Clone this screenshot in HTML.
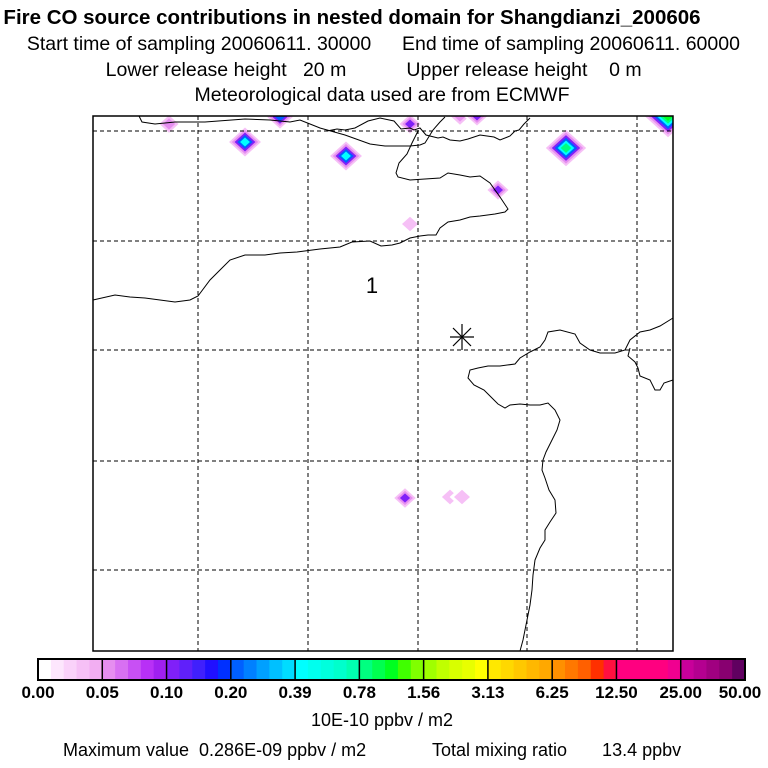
<!DOCTYPE html>
<html><head><meta charset="utf-8"><style>
body{margin:0;background:#fff;}
svg{display:block;font-family:"Liberation Sans",sans-serif;}
text{white-space:pre;}
</style></head><body>
<svg id="c" width="768" height="768" viewBox="0 0 768 768">
<g font-size="19.5" text-anchor="middle" fill="#000">
<text x="352" y="24" font-weight="bold" font-size="20.5">Fire CO source contributions in nested domain for Shangdianzi_200606</text>
<text x="199" y="50">Start time of sampling 20060611. 30000</text>
<text x="571" y="50">End time of sampling 20060611. 60000</text>
<text x="226" y="76">Lower release height   20 m</text>
<text x="524" y="76">Upper release height    0 m</text>
<text x="382" y="101">Meteorological data used are from ECMWF</text>
</g>
<svg x="93" y="116" width="580" height="535" viewBox="93 116 580 535" overflow="hidden">
<g id="plumes"></g>
</svg>
<g stroke="#000" stroke-width="1" stroke-dasharray="4,3" fill="none">
<line x1="198" y1="116" x2="198" y2="651"/><line x1="308" y1="116" x2="308" y2="651"/><line x1="418" y1="116" x2="418" y2="651"/><line x1="527" y1="116" x2="527" y2="651"/><line x1="637" y1="116" x2="637" y2="651"/>
<line x1="93" y1="131" x2="673" y2="131"/><line x1="93" y1="241" x2="673" y2="241"/><line x1="93" y1="350" x2="673" y2="350"/><line x1="93" y1="461" x2="673" y2="461"/><line x1="93" y1="570" x2="673" y2="570"/>
</g>
<g stroke="#000" stroke-width="1" fill="none">
<polyline points="139,116 142,122 155,124 175,122 205,122 245,119 270,120 290,122 300,120 310,124 320,128 345,135 370,144 385,146 410,146 420,145 425,143 433,130 440,122 445,117"/>
<polyline points="327,131 337,129 345,130 355,128 368,121 380,118 394,121 401,129 410,128 414,130 420,128 426,135 438,138 443,137 450,140 460,141 468,139 480,135 494,137 500,140 510,136 515,131 519,130 524,124 530,118"/>
<polyline points="418,131 412,143 407,154 399,163 396,173 398,177 410,180 425,179 440,178 448,173 460,175 470,177 480,176 490,183 500,197 508,209 505,212 495,214 480,216 470,217 460,220 448,222 440,228 436,235 428,235 420,236 410,238 400,243 392,245 381,246 370,241 352,242 340,247 320,249 297,252 280,253 265,255 245,255 230,260 220,270 210,280 198,296 190,300 175,302 160,300 145,298 130,297 115,295 93,300"/>
<polyline points="673,318 660,326 650,330 640,332 630,340 625,350 615,353 600,353 590,350 580,343 575,334 560,330 548,332 545,340 540,347 530,352 520,358 515,364 500,366 488,366 478,368 470,370 468,378 474,385 484,390 490,396 498,404 505,408 510,405 520,404 530,405 540,405 548,403 555,410 560,420 557,430 552,440 546,452 543,460 542,470 545,478 549,490 555,500 556,513 550,522 545,530 545,540 540,548 535,560 533,575 532,590 530,605 527,620 523,640 520,651"/>
<polyline points="673,380 664,383 660,390 655,390 650,380 640,376 638,368 635,362 628,356 630,348"/>
</g>
<text x="372" y="293" font-size="22" text-anchor="middle">1</text>
<g stroke="#000" stroke-width="1.2">
<line x1="450" y1="337" x2="474" y2="337"/><line x1="462" y1="324" x2="462" y2="350"/><line x1="453" y1="328" x2="471" y2="346"/><line x1="471" y1="328" x2="453" y2="346"/>
</g>
<rect x="93" y="116" width="580" height="535" fill="none" stroke="#000" stroke-width="1.5"/>
<g id="cbar"></g>
<text x="382" y="726" font-size="18" text-anchor="middle">10E-10 ppbv / m2</text>
<text x="63" y="756" font-size="18">Maximum value  0.286E-09 ppbv / m2</text>
<text x="432" y="756" font-size="18">Total mixing ratio       13.4 ppbv</text>
</svg>
<script>
const tickLabels=["0.00","0.05","0.10","0.20","0.39","0.78","1.56","3.13","6.25","12.50","25.00","50.00"];
const segColors=[
["#ffffff","#fde6fd","#fad2fa","#f6c0f6","#f2aef2"],
["#e68ef0","#d870f2","#c850f4","#b830f6","#a020f0"],
["#8020f8","#6020fa","#4020fc","#2010ff","#0030ff"],
["#0060ff","#0080ff","#00a0ff","#00c0ff","#00dcff"],
["#00ffff","#00ffee","#00ffdd","#00ffcc","#00ffb0"],
["#00ff80","#00ff50","#00ff20","#40ff00","#80ff00"],
["#a0ff00","#c0ff00","#d8ff00","#e8ff00","#ffff00"],
["#ffe800","#ffd800","#ffc800","#ffb800","#ffa800"],
["#ff9000","#ff7800","#ff6000","#ff3000","#ff1040"],
["#ff0080","#ff0080","#ff0080","#ff0080","#f00090"],
["#c8009a","#b40090","#a00080","#880070","#600060"]];
// plume spots: map x, map y, value (10E-10 ppbv/m2)
const spotX=[169,245,346,566,498,410,405,450,462,280,410,460,477,668];
const spotY=[124,142,156,148,190,224,498,497,497,117,124,116,116,116];
const spotV=[0.08,0.6,0.6,1.0,0.11,0.03,0.13,0.04,0.03,0.3,0.1,0.08,0.1,1.3];
const ns="http://www.w3.org/2000/svg";
const cb=document.getElementById('cbar');
const X0=38,X1=745,Y0=659,H=21;
const segW=(X1-X0)/segColors.length;
function xs(i){return X0+i*segW;}
segColors.forEach((cols,i)=>{cols.forEach((c,j)=>{
 const r=document.createElementNS(ns,'rect');
 
 
 r.setAttribute('x',xs(i)+j*segW/5);r.setAttribute('y',Y0);r.setAttribute('width',segW/5+0.5);r.setAttribute('height',H);r.setAttribute('fill',c);cb.appendChild(r);});});
tickLabels.forEach((t,i)=>{
 const l=document.createElementNS(ns,'line');
 
 
 l.setAttribute('x1',xs(i));l.setAttribute('x2',xs(i));l.setAttribute('y1',Y0);l.setAttribute('y2',Y0+H);l.setAttribute('stroke','#000');l.setAttribute('stroke-width','1.5');cb.appendChild(l);
 const tx=document.createElementNS(ns,'text');
 
 
 tx.setAttribute('x',Math.min(Math.max(xs(i),22),740));tx.setAttribute('y',698);tx.setAttribute('text-anchor','middle');tx.setAttribute('font-size','17');tx.setAttribute('font-weight','bold');tx.textContent=t;cb.appendChild(tx);});
const fr=document.createElementNS(ns,'rect');


fr.setAttribute('x',X0);fr.setAttribute('y',Y0);fr.setAttribute('width',X1-X0);fr.setAttribute('height',H);fr.setAttribute('fill','none');fr.setAttribute('stroke','#000');fr.setAttribute('stroke-width','2');cb.appendChild(fr);
const tv=tickLabels.map(Number);
function colorFor(v){let i=0;while(i<tv.length-2&&v>=tv[i+1])i++;const f=Math.min(0.999,Math.max(0,(v-tv[i])/(tv[i+1]-tv[i])));return segColors[i][Math.floor(f*5)];}
const pg=document.getElementById('plumes');
spotX.forEach((x,k)=>{
 const v=spotV[k];const levels=[0.01,0.03,0.06,0.1,0.2,0.4,0.8,1.2].filter(l=>l<=v);
 const rmax=11+Math.min(v,1.3)*10;
 levels.forEach((l,j)=>{
  const r=rmax*(1-j/(levels.length+0.8));
  const rx=r*1.1;
  const p=document.createElementNS(ns,'polygon');
  
  
  const y=spotY[k];
  p.setAttribute('points',`${x},${y-r} ${x+rx},${y} ${x},${y+r} ${x-rx},${y}`);
  p.setAttribute('fill',colorFor(l));pg.appendChild(p);});
});
</script>
</body></html>
